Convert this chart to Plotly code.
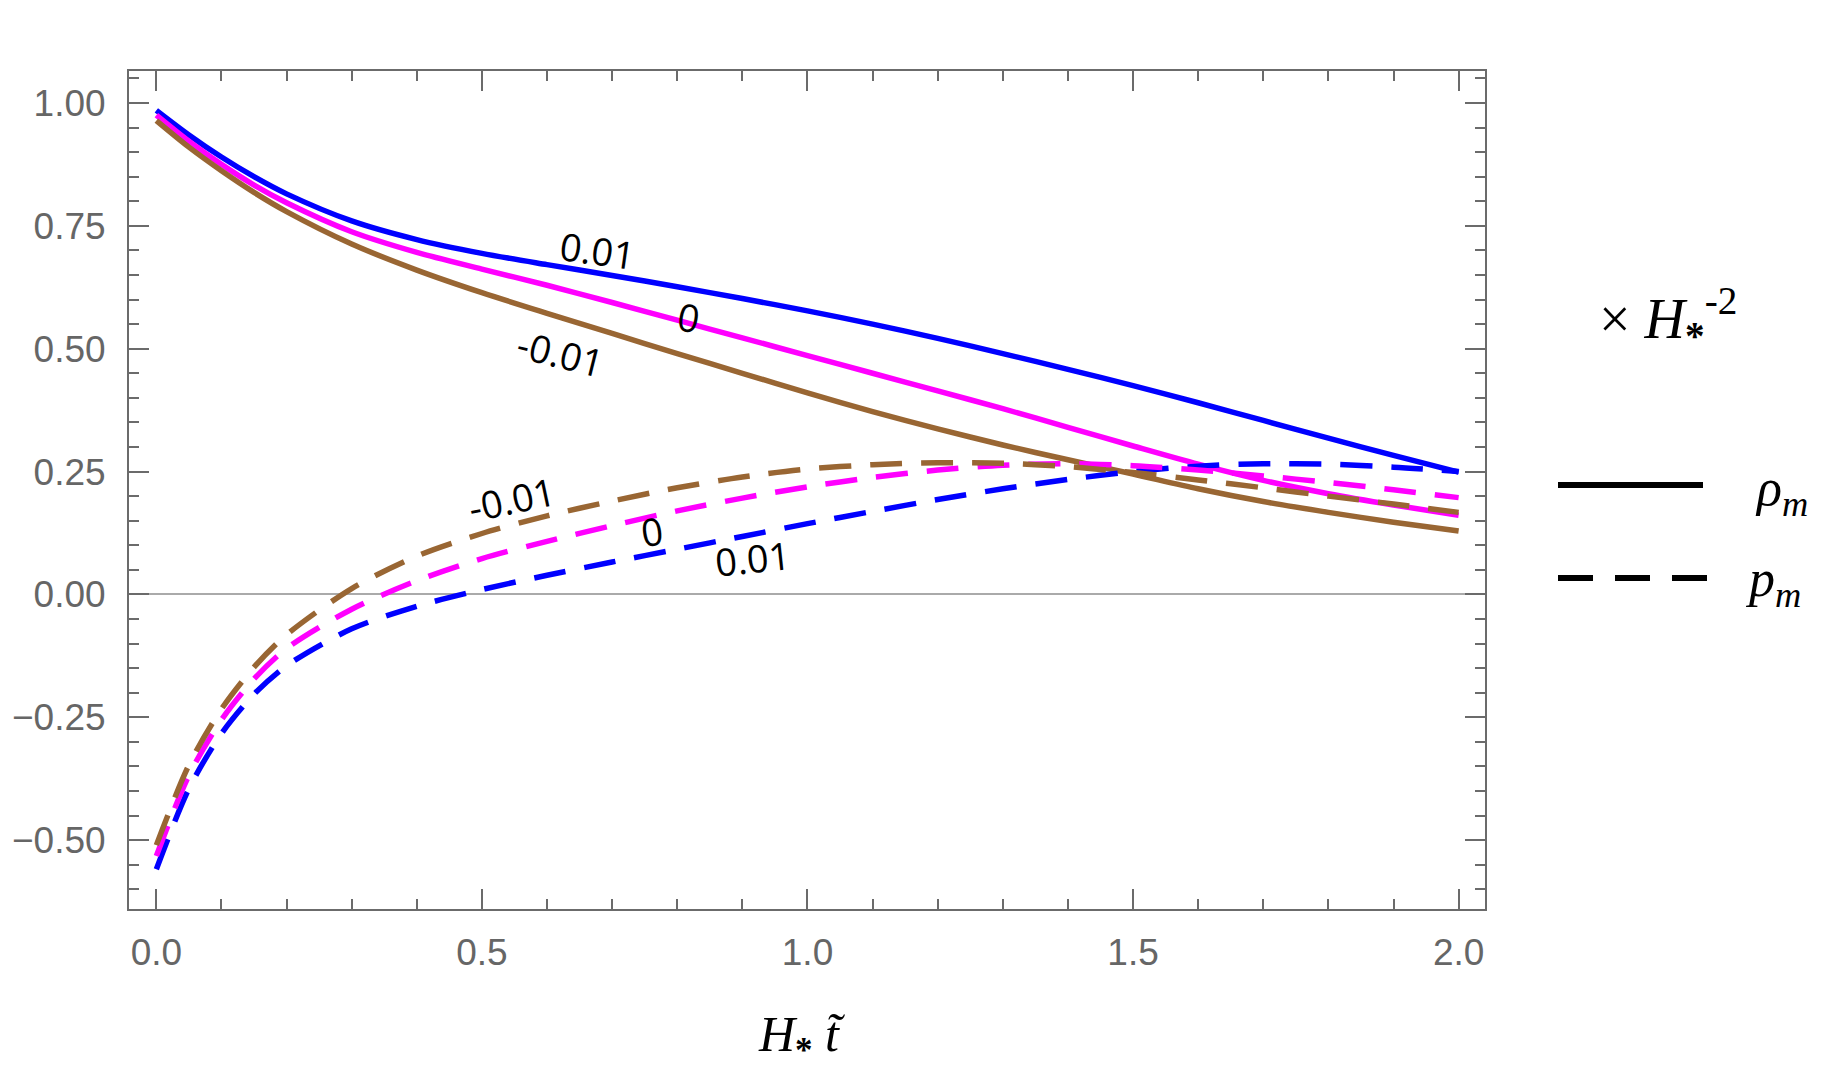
import plotly.graph_objects as go

# ---------------- data ----------------
t_vals = [0, 0.05, 0.1, 0.15, 0.2, 0.3, 0.4, 0.5, 0.6, 0.7, 0.8, 0.9, 1.0,
          1.1, 1.2, 1.3, 1.4, 1.5, 1.6, 1.7, 1.8, 1.9, 2.0]

rho_p01 = [0.985, 0.935, 0.89, 0.85, 0.815, 0.76, 0.722, 0.694, 0.671, 0.649, 0.626, 0.602, 0.577,
           0.55, 0.521, 0.49, 0.458, 0.425, 0.39, 0.354, 0.318, 0.283, 0.249]
rho_0 = [0.975, 0.922, 0.875, 0.833, 0.797, 0.738, 0.696, 0.662, 0.629, 0.594, 0.558, 0.522, 0.486,
         0.45, 0.414, 0.378, 0.34, 0.302, 0.265, 0.232, 0.205, 0.182, 0.161]
rho_m01 = [0.964, 0.91, 0.862, 0.818, 0.779, 0.713, 0.66, 0.614, 0.572, 0.531, 0.49, 0.45, 0.41,
           0.372, 0.337, 0.304, 0.274, 0.245, 0.215, 0.189, 0.167, 0.147, 0.129]

p_p01 = [-0.559, -0.395, -0.283, -0.203, -0.145, -0.07, -0.024, 0.01, 0.039, 0.066, 0.092, 0.118, 0.144,
         0.169, 0.193, 0.215, 0.234, 0.25, 0.261, 0.266, 0.265, 0.259, 0.25]
p_0 = [-0.532, -0.368, -0.255, -0.172, -0.11, -0.03, 0.028, 0.073, 0.108, 0.14, 0.17, 0.196, 0.219,
       0.238, 0.253, 0.263, 0.266, 0.262, 0.253, 0.241, 0.228, 0.213, 0.197]
p_m01 = [-0.51, -0.347, -0.233, -0.148, -0.082, 0.012, 0.078, 0.124, 0.16, 0.19, 0.217, 0.239, 0.255,
         0.264, 0.268, 0.267, 0.26, 0.248, 0.233, 0.217, 0.2, 0.184, 0.167]

x_ticks = [0, 0.5, 1.0, 1.5, 2.0]
y_ticks = [-0.5, -0.25, 0, 0.25, 0.5, 0.75, 1.0]

# curve labels: (text, x, y, angle)
curve_labels = [
    ("0.01", 0.677, 0.70, 8),
    ("0", 0.818, 0.565, 10),
    ("-0.01", 0.621, 0.492, 14),
    ("-0.01", 0.545, 0.194, -12),
    ("0", 0.761, 0.129, -8),
    ("0.01", 0.916, 0.074, -6),
]

BLUE = "#0000FF"
MAGENTA = "#FF00FF"
BROWN = "#996633"
FRAME = "#6b6b6b"

fig = go.Figure()
series = [
    (rho_p01, BLUE, "solid"), (rho_0, MAGENTA, "solid"), (rho_m01, BROWN, "solid"),
    (p_p01, BLUE, "32px,19px"), (p_0, MAGENTA, "32px,19px"), (p_m01, BROWN, "32px,19px"),
]
for ys, col, dash in series:
    fig.add_trace(go.Scatter(
        x=t_vals, y=ys, mode="lines",
        line=dict(color=col, width=5.5, dash=dash, shape="spline", smoothing=0.8),
        showlegend=False, hoverinfo="skip"))

for txt, xx, yy, ang in curve_labels:
    fig.add_annotation(x=xx, y=yy, text=txt, showarrow=False, textangle=ang,
                       xanchor="center", yanchor="middle",
                       font=dict(family="Open Sans", size=38, color="black"))

# layout geometry
L, R, T, B = 129, 361, 71, 162
W, H = 1846, 1071
pw, ph = W - L - R, H - T - B


def px(xp):
    return (xp - L) / pw


def py(yp):
    return (H - B - yp) / ph


def side_text(xc, yc, text, size):
    fig.add_annotation(x=px(xc), y=py(yc), xref="paper", yref="paper", showarrow=False,
                       xanchor="center", yanchor="middle", text=text,
                       font=dict(family="Liberation Serif", size=size, color="black"))


# legend / side annotations
side_text(1668, 318, "× <i>H</i><sub><b>*</b></sub><sup>-2</sup>", 56)
fig.add_shape(type="line", xref="paper", yref="paper", x0=px(1558), x1=px(1703),
              y0=py(485), y1=py(485), line=dict(color="black", width=6))
fig.add_shape(type="line", xref="paper", yref="paper", x0=px(1558), x1=px(1707),
              y0=py(578), y1=py(578), line=dict(color="black", width=6, dash="35px,22px"))
side_text(1781, 491, "<i>ρ</i><sub><i>m</i></sub>", 52)
side_text(1773, 582, "<i>p</i><sub><i>m</i></sub>", 52)
# x-axis title
side_text(801, 1038, "<i>H</i><sub><b>*</b></sub> <i>t̃</i>", 50)

axis_common = dict(
    showgrid=False, showline=True, linecolor=FRAME, linewidth=2, automargin=False,
    ticks="inside", ticklen=20, tickwidth=2, tickcolor=FRAME, mirror="allticks",
    tickfont=dict(family="Liberation Sans", size=37, color="#666666"),
)

fig.update_layout(
    width=W, height=H, margin=dict(l=L, r=R, t=T, b=B, autoexpand=False),
    paper_bgcolor="white", plot_bgcolor="white",
    xaxis=dict(range=[-0.042, 2.0405], tickvals=x_ticks, tickformat=".1f",
               zeroline=False, ticklabelstandoff=10,
               minor=dict(dtick=0.1, tick0=0, ticks="inside", ticklen=10,
                          tickwidth=2, tickcolor=FRAME, showgrid=False),
               **axis_common),
    yaxis=dict(range=[-0.64, 1.065], tickvals=y_ticks, tickformat=".2f",
               zeroline=True, zerolinecolor="#aaaaaa", zerolinewidth=1.5,
               ticklabelstandoff=14,
               minor=dict(dtick=0.05, tick0=0, ticks="inside", ticklen=10,
                          tickwidth=2, tickcolor=FRAME, showgrid=False),
               **axis_common),
)

fig.write_html("out.html")
